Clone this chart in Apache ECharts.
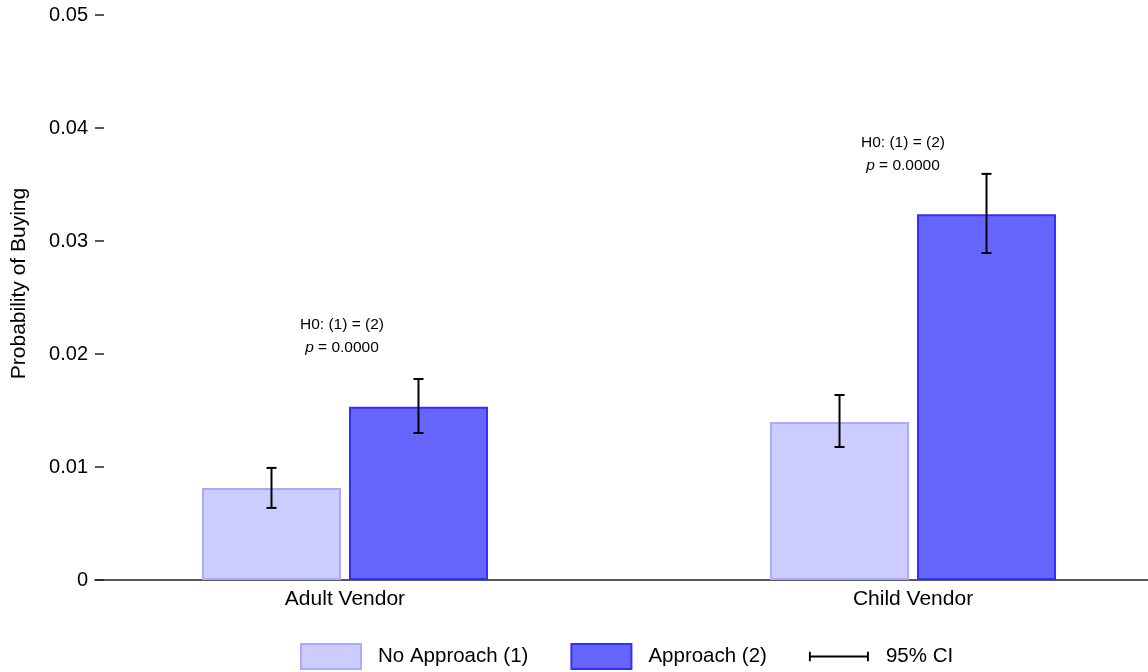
<!DOCTYPE html>
<html>
<head>
<meta charset="utf-8">
<script src="https://cdn.jsdelivr.net/npm/echarts@6/dist/echarts.min.js"></script>
<style>
html,body{margin:0;padding:0;background:#fff;}
#chart{width:1148px;height:672px;}
</style>
</head>
<body>
<div id="chart"></div>
<script>
// ---- data ----
const categories = ['Adult Vendor', 'Child Vendor'];
const seriesNames = ['No Approach (1)', 'Approach (2)'];
const noApproach = [0.00814, 0.01398];
const approach = [0.01533, 0.03236];
const noApproachCI = [[0.00638, 0.00992], [0.01177, 0.01637]];
const approachCI = [[0.01301, 0.01779], [0.02894, 0.03594]];
const annotationY = [0.02155, 0.03765];
const annotationText = ['H0: (1) = (2)', '{i|p} = 0.0000'];
const yTicks = {min: 0, max: 0.05, interval: 0.01};
const yTitle = 'Probability of Buying';
const ciName = '95% CI';

const FONT = 'Liberation Sans, Arial, sans-serif';
const X_MIN = -0.4401, X_MAX = 1.4137; // category-position range of the x axis
const BAR_W = 0.2447;   // fraction of one category step
const BAR_GAP = 0.0575; // fraction of bar width
const ANNOT_SHIFT = [-3, -10]; // small horizontal label nudges (px)

function errorSeries(ci, sign) {
  return {
    type: 'custom',
    name: ciName,
    itemStyle: {color: '#000'},
    encode: {x: 0, y: [1, 2]},
    data: ci.map((d, i) => [i, d[0], d[1]]),
    z: 5,
    renderItem: function (params, api) {
      const band = api.size([1, 0])[0];
      const bw = band * BAR_W;
      const off = sign * (bw + bw * BAR_GAP) / 2;
      const lo = api.coord([api.value(0), api.value(1)]);
      const hi = api.coord([api.value(0), api.value(2)]);
      const x = lo[0] + off;
      const cap = 5;
      const st = {stroke: '#000', lineWidth: 2};
      return {
        type: 'group',
        children: [
          {type: 'line', shape: {x1: x, y1: lo[1], x2: x, y2: hi[1]}, style: st},
          {type: 'line', shape: {x1: x - cap, y1: lo[1], x2: x + cap, y2: lo[1]}, style: st},
          {type: 'line', shape: {x1: x - cap, y1: hi[1], x2: x + cap, y2: hi[1]}, style: st}
        ]
      };
    }
  };
}

const chart = echarts.init(document.getElementById('chart'));
chart.setOption({
  animation: false,
  backgroundColor: '#fff',
  textStyle: {fontFamily: FONT},
  grid: {left: 95, right: 0, top: 15, bottom: 92, outerBoundsMode: 'none', containLabel: false},
  xAxis: {
    type: 'value', min: X_MIN, max: X_MAX,
    axisLine: {show: true, onZero: false, lineStyle: {color: '#222', width: 1.5}},
    axisTick: {show: false}, splitLine: {show: false},
    axisLabel: {show: true, customValues: [0, 1], formatter: v => categories[Math.round(v)] || '',
      fontSize: 21, color: '#000', margin: 9, fontFamily: FONT}
  },
  yAxis: {
    type: 'value', min: yTicks.min, max: yTicks.max, interval: yTicks.interval,
    name: yTitle, nameLocation: 'middle', nameGap: 65,
    nameTextStyle: {fontSize: 21, color: '#000', fontFamily: FONT, padding: [0, 0, 0, 28]},
    axisLine: {show: false, onZero: false},
    axisTick: {show: true, inside: true, length: 9, lineStyle: {color: '#222', width: 1.5}},
    axisLabel: {fontSize: 20, color: '#000', margin: 7, fontFamily: FONT},
    splitLine: {show: false}
  },
  legend: {
    left: 300, top: 643, padding: 0,
    itemWidth: 60, itemHeight: 25, itemGap: 42,
    textStyle: {fontSize: 20.5, color: '#000', fontFamily: FONT, padding: [0, 0, 0, 12]},
    data: [
      {name: seriesNames[0], icon: 'rect'},
      {name: seriesNames[1], icon: 'rect'},
      {name: ciName, icon: 'path://M0,7h2v4h59v-4h2v10h-2v-4h-59v4h-2z'}
    ],
    selectedMode: false
  },
  series: [
    {type: 'bar', name: seriesNames[0],
     data: noApproach.map((v, i) => [i, v]), barWidth: (BAR_W * 100) + '%', barGap: (BAR_GAP * 100) + '%',
     itemStyle: {color: '#ccccff', borderColor: '#a9a9ff', borderWidth: 2}},
    {type: 'bar', name: seriesNames[1],
     data: approach.map((v, i) => [i, v]), barWidth: (BAR_W * 100) + '%', barGap: (BAR_GAP * 100) + '%',
     itemStyle: {color: '#6666ff', borderColor: '#3030ff', borderWidth: 2}},
    errorSeries(noApproachCI, -1),
    errorSeries(approachCI, 1),
    {type: 'scatter', name: 'annotation',
     symbolSize: 0, silent: true, z: 6,
     itemStyle: {color: '#000', opacity: 1},
     data: annotationY.map((v, i) => ({value: [i, v], label: {offset: [ANNOT_SHIFT[i], 0]}})),
     label: {show: true, position: 'inside', color: '#000', fontSize: 15.5, lineHeight: 23,
       fontFamily: FONT, align: 'center', opacity: 1,
       formatter: annotationText.join('\n'),
       rich: {i: {fontStyle: 'italic', fontSize: 15.5, color: '#000', fontFamily: FONT, lineHeight: 23}}}}
  ]
});
</script>
</body>
</html>
